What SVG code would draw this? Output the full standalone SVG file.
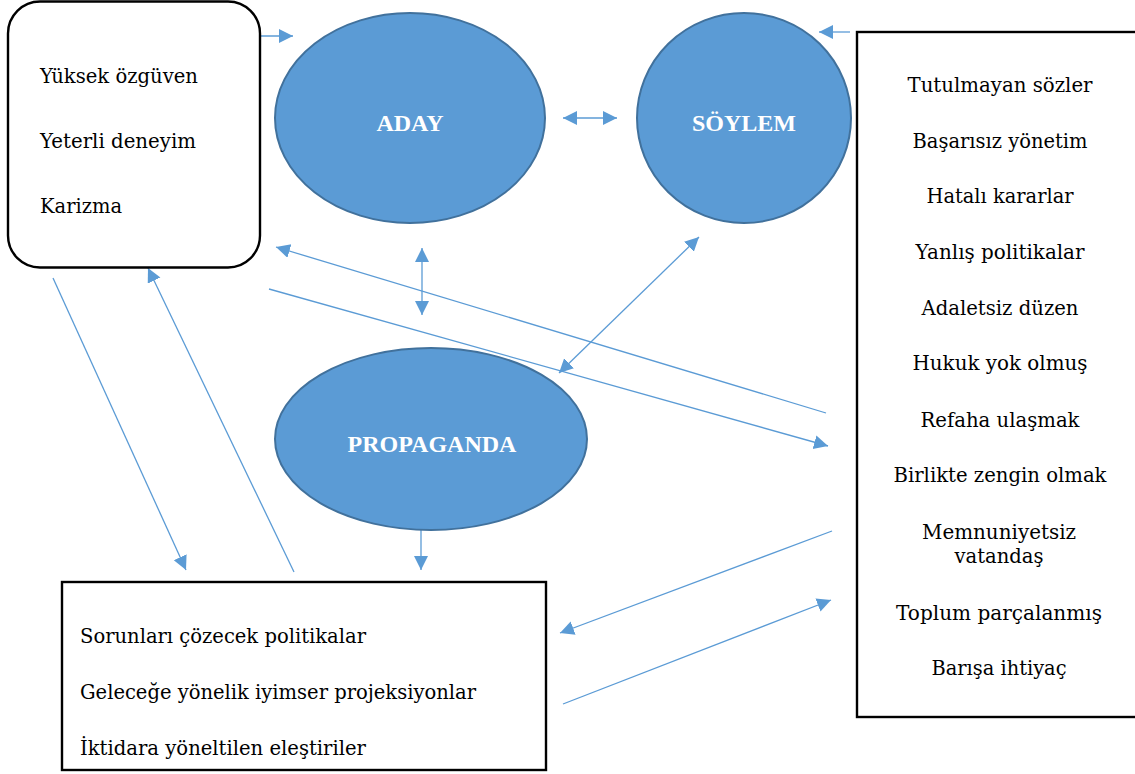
<svg xmlns="http://www.w3.org/2000/svg" width="1135" height="774" viewBox="0 0 1135 774">
<defs>
<style>
.box{fill:#fff;stroke:#000;stroke-width:2.4}
.ell{fill:#5B9BD5;stroke:#41719C;stroke-width:2}
.t{font-family:"DejaVu Serif","Liberation Serif",serif;font-size:19.5px;fill:#000}
.tc{text-anchor:middle}
.lbl{font-family:"Liberation Serif","Times New Roman",serif;font-weight:bold;font-size:24px;fill:#fff;text-anchor:middle}
.c{stroke:#5B9BD5;stroke-width:1.3;fill:none}
.a{marker-end:url(#ah)}
.d{marker-start:url(#ah);marker-end:url(#ah)}
</style>
<marker id="ah" markerUnits="userSpaceOnUse" markerWidth="15" markerHeight="15" refX="14" refY="7" orient="auto-start-reverse">
<path d="M0,0 L14,7 L0,14 z" fill="#5B9BD5"/>
</marker>
</defs>
<rect width="1135" height="774" fill="#fff"/>

<g id="connectors">
<line class="c a" x1="260" y1="36" x2="293" y2="36"/>
<line class="c a" x1="850" y1="32" x2="819" y2="32"/>
<line class="c d" x1="563" y1="118" x2="617" y2="118"/>
<line class="c d" x1="422" y1="248" x2="422" y2="315"/>
<line class="c d" x1="699" y1="237" x2="559" y2="373"/>
<line class="c a" x1="826" y1="413" x2="276" y2="247"/>
<line class="c a" x1="269" y1="289" x2="828" y2="446"/>
<line class="c a" x1="53" y1="278" x2="186" y2="570"/>
<line class="c a" x1="294" y1="572" x2="148" y2="268"/>
<line class="c a" x1="421" y1="530" x2="421" y2="570"/>
<line class="c a" x1="832" y1="531" x2="560" y2="633"/>
<line class="c a" x1="563" y1="704" x2="831" y2="600"/>
</g>

<g id="qualities">
<rect class="box" x="8" y="1.5" width="252" height="266" rx="32" ry="32"/>
<text class="t" x="40" y="83" textLength="158" lengthAdjust="spacingAndGlyphs">Yüksek özgüven</text>
<text class="t" x="40" y="148" textLength="156" lengthAdjust="spacingAndGlyphs">Yeterli deneyim</text>
<text class="t" x="40" y="213" textLength="82" lengthAdjust="spacingAndGlyphs">Karizma</text>
</g>

<g id="aday">
<ellipse class="ell" cx="410" cy="118" rx="135" ry="105"/>
<text class="lbl" x="410" y="131">ADAY</text>
</g>

<g id="soylem">
<ellipse class="ell" cx="744" cy="118" rx="107" ry="105"/>
<text class="lbl" x="744" y="131">SÖYLEM</text>
</g>

<g id="propaganda">
<ellipse class="ell" cx="431" cy="439" rx="156" ry="91"/>
<text class="lbl" x="432" y="452">PROPAGANDA</text>
</g>

<g id="issues">
<rect class="box" x="857" y="32" width="290" height="685"/>
<text class="t tc" x="1000" y="92" textLength="185" lengthAdjust="spacingAndGlyphs">Tutulmayan sözler</text>
<text class="t tc" x="1000" y="148" textLength="175" lengthAdjust="spacingAndGlyphs">Başarısız yönetim</text>
<text class="t tc" x="1000" y="203" textLength="147" lengthAdjust="spacingAndGlyphs">Hatalı kararlar</text>
<text class="t tc" x="1000" y="259" textLength="169" lengthAdjust="spacingAndGlyphs">Yanlış politikalar</text>
<text class="t tc" x="1000" y="315" textLength="157" lengthAdjust="spacingAndGlyphs">Adaletsiz düzen</text>
<text class="t tc" x="1000" y="370" textLength="175" lengthAdjust="spacingAndGlyphs">Hukuk yok olmuş</text>
<text class="t tc" x="1000" y="427" textLength="159" lengthAdjust="spacingAndGlyphs">Refaha ulaşmak</text>
<text class="t tc" x="1000" y="482" textLength="213" lengthAdjust="spacingAndGlyphs">Birlikte zengin olmak</text>
<text class="t tc" x="999" y="539" textLength="154" lengthAdjust="spacingAndGlyphs">Memnuniyetsiz</text>
<text class="t tc" x="999" y="563" textLength="89" lengthAdjust="spacingAndGlyphs">vatandaş</text>
<text class="t tc" x="999" y="620" textLength="206" lengthAdjust="spacingAndGlyphs">Toplum parçalanmış</text>
<text class="t tc" x="999" y="675" textLength="135" lengthAdjust="spacingAndGlyphs">Barışa ihtiyaç</text>
</g>

<g id="promises">
<rect class="box" x="62" y="582" width="484" height="188"/>
<text class="t" x="80" y="643" textLength="286" lengthAdjust="spacingAndGlyphs">Sorunları çözecek politikalar</text>
<text class="t" x="80" y="699" textLength="396" lengthAdjust="spacingAndGlyphs">Geleceğe yönelik iyimser projeksiyonlar</text>
<text class="t" x="80" y="755" textLength="286" lengthAdjust="spacingAndGlyphs">İktidara yöneltilen eleştiriler</text>
</g>
</svg>
